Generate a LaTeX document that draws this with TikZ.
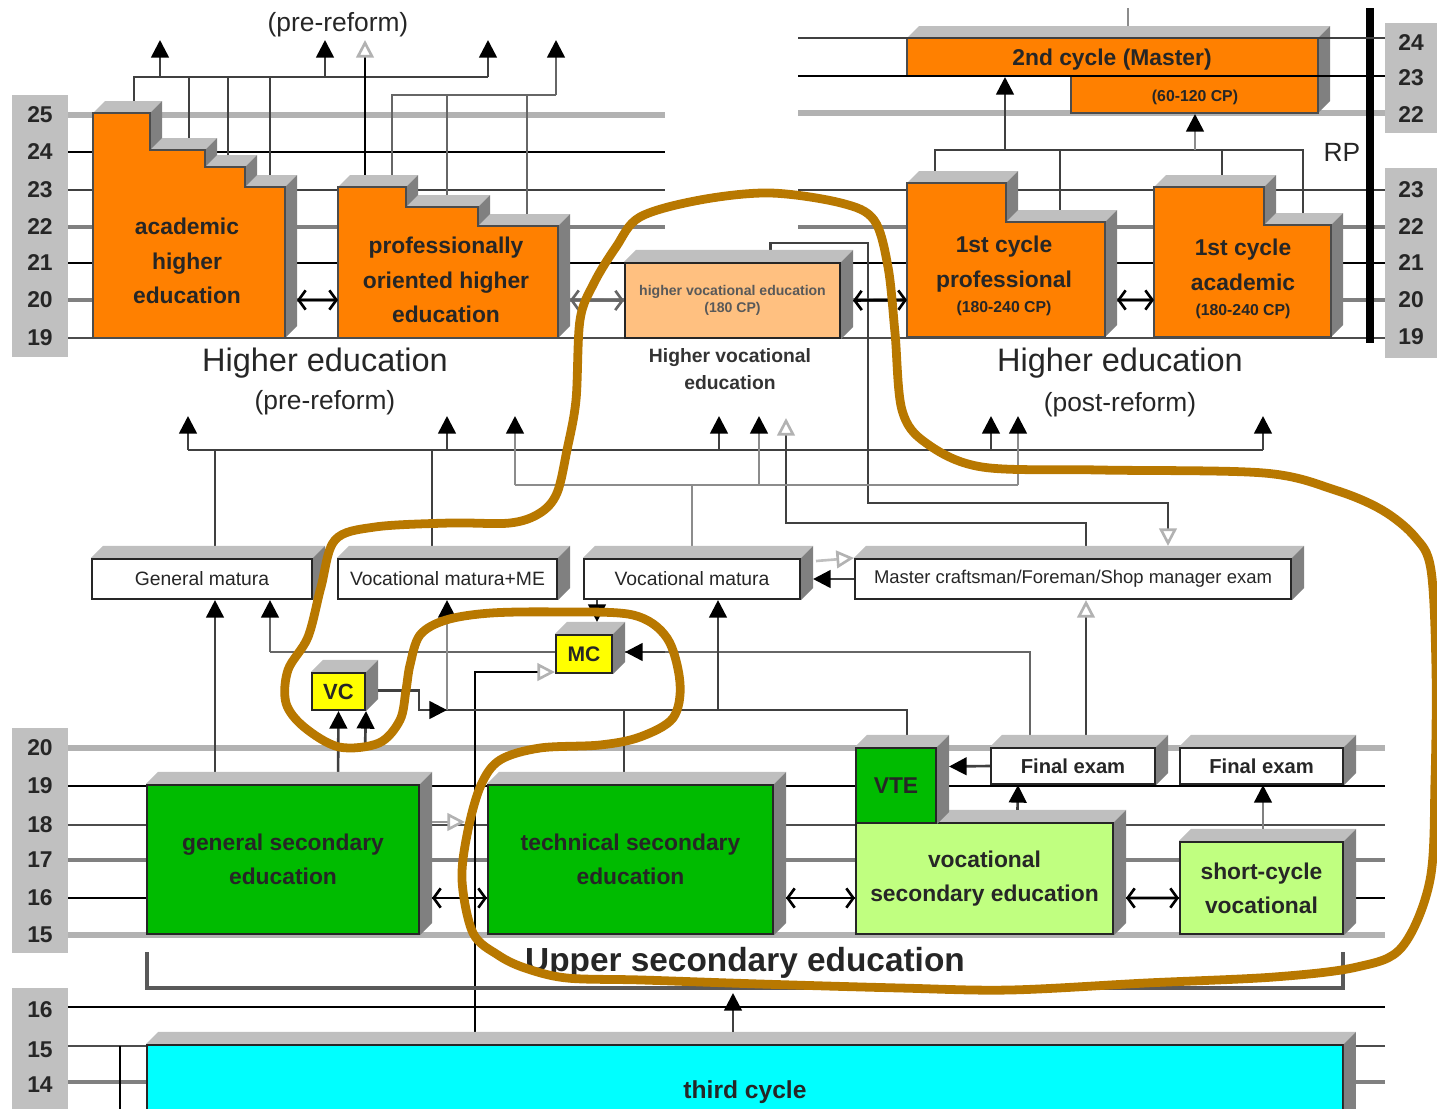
\documentclass[tikz,border=0pt]{standalone}
\usepackage{fontspec}
\setmainfont{Liberation Sans}
\usetikzlibrary{calc, positioning, arrows.meta}

\definecolor{orng}{HTML}{FF8000}
\definecolor{lightorng}{HTML}{FFC080}
\definecolor{grn}{HTML}{00BB00}
\definecolor{lightgrn}{HTML}{C0FF80}
\definecolor{cyn}{HTML}{00FFFF}
\definecolor{yel}{HTML}{FFFF00}
\definecolor{scalegray}{HTML}{C0C0C0}
\definecolor{pen}{HTML}{B87800}

\pgfdeclarelayer{background}
\pgfsetlayers{background,main}

\tikzset{
  wire/.style={draw=black!75, line width=1.5pt},
  arr/.style={wire, -{Triangle[length=10pt,width=10pt,color=black]}},
  hollow/.style={wire, -{Triangle[length=10pt,width=10pt,color=black!30,fill=white]}},
  bothways/.style={line width=1.5pt, {Straight Barb[length=4pt,width=11pt]}-{Straight Barb[length=4pt,width=11pt]}},
  boxtext/.style={align=center, text=black!85, font=\bfseries\fontsize{13}{19.5}\selectfont},
  block/.style={boxtext, draw=black!85, line width=1.2pt, inner sep=0pt},
  exam/.style={block, fill=white, minimum height=0.8cm, font=\fontsize{11}{13}\selectfont},
  topface/.style={fill=black!25},
  sideface/.style={fill=black!50},
  scalebar/.style={fill=scalegray},
  scalenum/.style={font=\bfseries\fontsize{13}{13}\selectfont, text=black!85},
  caption/.style={font=\fontsize{18.5}{20}\selectfont, text=black!85},
  scribble/.style={draw=pen, line width=5pt, line join=round}
}

% depth faces of a box node
\newcommand{\slabfaces}[1]{%
  \fill[topface] (#1.north west) -- ++(12,-12) -- ($(#1.north east)+(12,-12)$) -- (#1.north east) -- cycle;
  \fill[sideface] (#1.north east) -- ++(12,-12) -- ($(#1.south east)+(12,-12)$) -- (#1.south east) -- cycle;}
% faces of the stepped blocks
\newcommand{\topface}[3]{\fill[topface] (#1,#3) -- ++(12,-12) -- (#2+12,#3-12) -- (#2,#3) -- cycle;}
\newcommand{\sideface}[3]{\fill[sideface] (#1,#2) -- ++(12,-12) -- (#1+12,#3-12) -- (#1,#3) -- cycle;}

\begin{document}
\begin{tikzpicture}[x=0.02cm, y=-0.02cm]
    \useasboundingbox (0,0) rectangle (1437,1109);

    % Skalen und Raster
    \begin{pgfonlayer}{background}
        \fill[scalebar] (12,95) rectangle (68,357);
        \fill[scalebar] (12,728) rectangle (68,953);
        \fill[scalebar] (12,988) rectangle (68,1115);
        \fill[scalebar] (1385,23) rectangle (1437,133);
        \fill[scalebar] (1385,168) rectangle (1437,358);

        \foreach \y/\c/\w in {115/black!30/3pt, 152/black/1.5pt, 190/black!75/1.5pt, 227/black!50/1.8pt} {
            \draw[draw=\c, line width=\w] (68,\y) -- (665,\y);
        }
        \foreach \y/\c/\w in {263/black/1.5pt, 300/black!50/1.8pt, 338/black!70/1.5pt,
                              748/black!30/3pt, 786/black/1.5pt, 825/black!70/1.5pt, 860/black!50/1.8pt, 898/black/1.5pt, 935/black!30/3pt,
                              1007/black/1.5pt, 1046/black!70/1.5pt, 1082/black!50/1.8pt} {
            \draw[draw=\c, line width=\w] (68,\y) -- (1385,\y);
        }
        \foreach \y/\c/\w in {113/black!30/3pt, 190/black!75/1.5pt, 227/black!50/1.8pt} {
            \draw[draw=\c, line width=\w] (798,\y) -- (1385,\y);
        }
        \draw[line width=4.5pt] (1370,8) -- (1370,343);
    \end{pgfonlayer}

    \foreach \n/\y in {25/115, 24/152, 23/190, 22/227, 21/263, 20/300, 19/338}
        \node[scalenum] (tl\n) at (40,\y) {\n};
    \foreach \n/\y in {20/748, 19/786, 18/825, 17/860, 16/898, 15/935}
        \node[scalenum] (ml\n) at (40,\y) {\n};
    \foreach \n/\y in {16/1010, 15/1050, 14/1085}
        \node[scalenum] (bl\n) at (40,\y) {\n};
    \foreach \n/\y in {24/43, 23/78, 22/115}
        \node[scalenum] (rt\n) at (1411,\y) {\n};
    \foreach \n/\y in {23/190, 22/227, 21/263, 20/300, 19/337}
        \node[scalenum] (rr\n) at (1411,\y) {\n};
    \node[font=\fontsize{15}{15}\selectfont, text=black!85] (rp) at (1342,152) {RP};

    % Hochschule (alt)
    \topface{93}{150}{113} \topface{150}{205}{150} \topface{205}{245}{167} \topface{245}{285}{187}
    \sideface{150}{113}{150} \sideface{205}{150}{167} \sideface{245}{167}{187} \sideface{285}{187}{338}
    \draw[fill=orng, draw=black!70, line width=1pt] (93,338) -- (93,113) -- (150,113) -- (150,150) -- (205,150)
        -- (205,167) -- (245,167) -- (245,187) -- (285,187) -- (285,338) -- cycle;
    \node[boxtext] (ahe) at (187,261) {academic\\higher\\education};

    \topface{338}{406}{187} \topface{406}{478}{207} \topface{478}{558}{226}
    \sideface{406}{187}{207} \sideface{478}{207}{226} \sideface{558}{226}{338}
    \draw[fill=orng, draw=black!70, line width=1pt] (338,338) -- (338,187) -- (406,187) -- (406,207) -- (478,207)
        -- (478,226) -- (558,226) -- (558,338) -- cycle;
    \node[boxtext] (pohe) at (446,280) {professionally\\oriented higher\\education};

    \node[block, fill=lightorng, minimum width=4.3cm, minimum height=1.5cm, font=\bfseries\fontsize{8}{9.5}\selectfont, text=black!65] (hve) at (732.5,300.5) {higher vocational education\\(180 CP)};
    \slabfaces{hve}

    % Hochschule (neu)
    \topface{907}{1006}{183} \topface{1006}{1105}{222}
    \sideface{1006}{183}{222} \sideface{1105}{222}{337}
    \draw[fill=orng, draw=black!70, line width=1pt] (907,337) -- (907,183) -- (1006,183) -- (1006,222) -- (1105,222) -- (1105,337) -- cycle;
    \node[boxtext] (fcp) at (1004,276) {1st cycle\\professional\\[-5pt]{\fontsize{9}{11}\selectfont (180-240 CP)}};

    \topface{1154}{1264}{187} \topface{1264}{1331}{225}
    \sideface{1264}{187}{225} \sideface{1331}{225}{337}
    \draw[fill=orng, draw=black!70, line width=1pt] (1154,337) -- (1154,187) -- (1264,187) -- (1264,225) -- (1331,225) -- (1331,337) -- cycle;
    \node[boxtext] (fca) at (1243,279) {1st cycle\\academic\\[-5pt]{\fontsize{9}{11}\selectfont (180-240 CP)}};

    \topface{907}{1318}{38} \sideface{1318}{38}{113}
    \draw[fill=orng, draw=black!70, line width=1pt] (907,38) -- (1318,38) -- (1318,113) -- (1071,113) -- (1071,76) -- (907,76) -- cycle;
    \draw[black!75, line width=1.5pt] (798,38) -- (1385,38);
    \draw[black, line width=1.5pt] (798,76) -- (1385,76);
    \node[boxtext] (msc) at (1112,60) {2nd cycle (Master)};
    \node[boxtext, font=\bfseries\fontsize{9}{9}\selectfont] (msccp) at (1195,97) {(60-120 CP)};

    % Matura und Pruefungen
    \node[exam, minimum width=4.4cm] (gm) at (202,579) {General matura};
    \node[exam, minimum width=4.38cm] (vmme) at (447.5,579) {Vocational matura+ME};
    \node[exam, minimum width=4.32cm] (vm) at (692,579) {Vocational matura};
    \node[exam, minimum width=8.72cm, font=\fontsize{10.5}{12}\selectfont] (mce) at (1073,579) {Master craftsman/Foreman/Shop manager exam};
    \foreach \b in {gm,vmme,vm,mce} {\slabfaces{\b}}

    \node[block, fill=yel, minimum width=1.12cm, minimum height=0.76cm, font=\bfseries\fontsize{12}{12}\selectfont] (mc) at (584,654) {MC};
    \node[block, fill=yel, minimum width=1.06cm, minimum height=0.74cm, font=\bfseries\fontsize{12.5}{12}\selectfont] (vc) at (338.5,691.5) {VC};
    \slabfaces{mc} \slabfaces{vc}

    % Sekundarstufe II
    \node[block, fill=lightgrn, minimum width=5.14cm, minimum height=2.22cm] (vse) at (984.5,878.5) {vocational\\secondary education};
    \slabfaces{vse}
    \node[block, fill=grn, minimum width=1.6cm, minimum height=1.5cm] (vte) at (896,785.5) {VTE};
    \slabfaces{vte}
    \node[block, fill=grn, minimum width=5.44cm, minimum height=2.98cm] (gse) at (283,859.5) {general secondary\\education};
    \node[block, fill=grn, minimum width=5.7cm, minimum height=2.98cm] (tse) at (630.5,859.5) {technical secondary\\education};
    \node[block, fill=lightgrn, minimum width=3.26cm, minimum height=1.84cm] (scv) at (1261.5,888) {short-cycle\\vocational};
    \node[exam, minimum width=3.28cm, minimum height=0.72cm, font=\bfseries\fontsize{11.5}{12}\selectfont] (fe1) at (1073,766) {Final exam};
    \node[exam, minimum width=3.26cm, minimum height=0.72cm, font=\bfseries\fontsize{11.5}{12}\selectfont] (fe2) at (1261.5,766) {Final exam};
    \foreach \b in {gse,tse,scv,fe1,fe2} {\slabfaces{\b}}

    \node[block, fill=cyn, minimum width=23.92cm, minimum height=1.9cm, font=\bfseries\fontsize{14}{14}\selectfont] (tc) at (745,1092.5) {third cycle};
    \slabfaces{tc}

    % Verbindungen
    \begin{pgfonlayer}{background}
        \draw[wire] (134,101) -- (134,77) -- (488,77);
        \foreach \x in {160,325,488} {\draw[arr] (\x,77) -- (\x,40);}
        \foreach \x/\y in {189/138, 228/155, 270/175} {\draw[wire] (\x,77) -- (\x,\y);}
        \draw[hollow, draw=black] (365,175) -- (365,40);
        \draw[wire, draw=black!60] (392,175) -- (392,95) -- (556,95);
        \draw[arr, draw=black!60] (556,95) -- (556,40);
        \foreach \x/\y in {447/195, 527/214} {\draw[wire, draw=black!60] (\x,95) -- (\x,\y);}

        \draw[wire] (935,172) -- (935,150) -- (1303,150) -- (1303,213);
        \draw[wire] (1060,150) -- (1060,211);
        \draw[wire] (1222,150) -- (1222,175);
        \draw[arr] (1005,150) -- (1005,77);
        \draw[arr, draw=black!45] (1195,150) -- (1195,114);
        \draw[wire, draw=black!45] (1128,8) -- (1128,27);

        \draw[hollow] ($(hve.north)+(38,-12)$) |- (868,243) |- (1168,503) -- ($(mce.north)+(95,-12)$);
        \draw[hollow] ($(mce.north)+(13,-12)$) |- (786,523) -- (786,418);

        \draw[wire] (188,450) -- (1263,450);
        \foreach \x in {188,447,719,991,1263} {\draw[arr] (\x,450) -- (\x,416);}
        \draw[wire] (215,450) -- (215,0 |- gm.north);
        \draw[wire] (432,450) -- (432,0 |- vmme.north);
        \draw[wire, draw=black!45] (515,485) -- (1018,485);
        \foreach \x in {515,759,1018} {\draw[arr, draw=black!45] (\x,485) -- (\x,416);}
        \draw[wire, draw=black!45] (692,485) -- (vm.north);

        \draw[arr] (215,0 |- gse.north) -- (215,0 |- gm.south);
        \draw[wire, draw=black!60] (1030,0 |- fe1.north) |- (270,652);
        \draw[arr, draw=black!60] (270,652) -- (270,0 |- gm.south);
        \draw[hollow, draw=black] (475,0 |- tc.north) |- ($(mc.south west)+(0,-2)$);
        \draw[wire] (419,710) -- (907,710) -- (907,0 |- vte.north);
        \draw[arr, draw=black!45] (447,710) -- (447,0 |- vmme.south);
        \draw[arr] (718,710) -- (718,0 |- vm.south);
        \draw[wire] (624,710) -- (624,0 |- tse.north);
        \draw[arr] (338,0 |- gse.north) -- (vc.south);
        \draw[arr] (365,748) -- (vc.south east);
        \draw[hollow] (1086,0 |- fe1.north) -- (1086,0 |- mce.south);

        \draw[wire, draw=black!65, line width=2pt] (147,952) |- (1343,988) -- (1343,952);
        \draw[wire, draw=black] (120,1046) -- (120,1109);
    \end{pgfonlayer}

    \draw[arr] ($(vm.south)+(-95,0)$) -- ($(mc.north)+(13,-12)$);
    \draw[arr] (mce.west) -- ($(vm.east)+(12,0)$);
    \draw[hollow, draw=black!25] (816,561) -- (mce.north west);
    \draw[arr] (665,652) -- ($(mc.east)+(12,-2)$);
    \draw[arr] ($(vc.east)+(12,-1)$) -| (419,710) -- (447,710);
    \draw[arr] (fe1.west) -- ($(vte.east)+(12,-19)$);
    \draw[arr] ($(vse.north)+(33,-12)$) -- ($(fe1.south)+(-55,0)$);
    \draw[arr, draw=black!50] ($(scv.north)+(1.5,-12)$) -- ($(fe2.south)+(1.5,0)$);
    \draw[arr] ($(tc.north)+(-12,-12)$) -- (733,993);

    \draw[bothways] (297,300) -- (338,300);
    \draw[bothways, draw=black!60] (570,300) -- (hve.west);
    \draw[bothways] ($(hve.east)+(12,0)$) -- (907,300);
    \draw[bothways] (1117,300) -- (1154,300);
    \draw[bothways] ($(gse.east)+(12,38.5)$) -- ($(tse.west)+(0,38.5)$);
    \draw[bothways] ($(tse.east)+(12,38.5)$) -- ($(vse.west)+(0,19.5)$);
    \draw[bothways] ($(vse.east)+(12,19.5)$) -- ($(scv.west)+(0,10)$);
    \draw[hollow, draw=black!40] (432,822) -- (465,822);

    % Beschriftungen
    \node[font=\fontsize{15}{15}\selectfont, text=black!85] (pre0) at (338,25) {(pre-reform)};
    \node[caption] (he1) at (325,363) {Higher education};
    \node[font=\fontsize{15}{15}\selectfont, text=black!85] (pre1) at (325,403) {(pre-reform)};
    \node[caption] (he2) at (1120,363) {Higher education};
    \node[font=\fontsize{15}{15}\selectfont, text=black!85] (post) at (1120,405) {(post-reform)};
    \node[font=\bfseries\fontsize{11}{15}\selectfont, text=black!80, align=center] (hvelab) at (730,369) {Higher vocational\\education};
    \node[font=\bfseries\fontsize{19}{19}\selectfont, text=black!85] (use) at (745,963) {Upper secondary education};

    % Markierung
    \draw[scribble] plot[smooth cycle, tension=0.55] coordinates {
        (700,200) (770,193) (841,203) (874,220) (888,267) (895,333) (902,410) (926,443) (982,467)
        (1100,470) (1264,473) (1335,490) (1382,510) (1415,537) (1431,570) (1436,670) (1435,780)
        (1430,880) (1402,947) (1357,967) (1274,977) (1146,983) (1010,990) (900,988) (760,984)
        (642,980) (567,978) (525,968) (498,955) (473,933) (462,880) (468,830) (481,785) (500,760)
        (540,748) (600,745) (640,737) (673,718) (680,683) (667,638) (633,615) (560,612) (491,613)
        (446,620) (420,635) (410,665) (406,690) (400,720) (379,743) (339,747) (304,727) (286,703)
        (288,670) (308,637) (321,587) (335,540) (375,527) (450,523) (510,523) (540,513) (557,493)
        (567,450) (576,400) (580,320) (594,283) (616,247) (640,217)};
\end{tikzpicture}
\end{document}
